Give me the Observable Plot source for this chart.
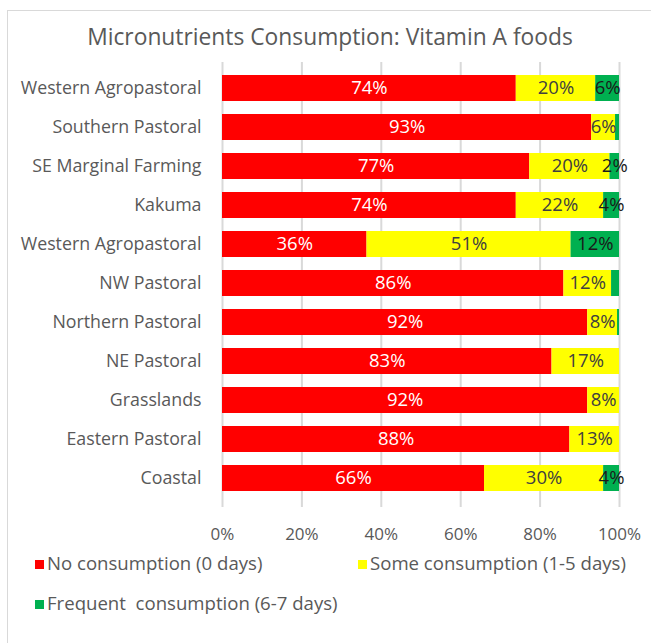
<!DOCTYPE html>
<html>
<head>
<meta charset="utf-8">
<script src="https://cdn.jsdelivr.net/npm/d3@7"></script>
<script src="https://cdn.jsdelivr.net/npm/@observablehq/plot@0.6"></script>
<style>
  html, body { margin: 0; padding: 0; background: #fff; }
  body { width: 651px; height: 643px; position: relative; overflow: hidden; font-family: "Open Sans", sans-serif; }
  #frame { position: absolute; left: 7px; top: 10px; width: 700px; height: 700px; border: 1px solid #d9d9d9; box-sizing: border-box; }
  #title { position: absolute; left: 0; width: 660px; top: 22px; text-align: center; font-size: 22.8px; line-height: 30px; color: #595959; }
  #chart { position: absolute; left: 0; top: 0; }
  .leg { position: absolute; font-size: 18.6px; line-height: 22px; color: #595959; white-space: pre; }
  .sw { display: inline-block; width: 9px; height: 9px; margin-right: 3px; vertical-align: 1px; }
</style>
</head>
<body>
<div id="frame"></div>
<div id="title">Micronutrients Consumption: Vitamin A foods</div>
<div id="chart"></div>
<div id="legend"></div>
<script>
const categories = ["Western Agropastoral","Southern Pastoral","SE Marginal Farming","Kakuma","Western Agropastoral","NW Pastoral","Northern Pastoral","NE Pastoral","Grasslands","Eastern Pastoral","Coastal"];
const seriesNames = ["No consumption (0 days)","Some consumption (1-5 days)","Frequent  consumption (6-7 days)"];
const seriesColors = ["#ff0000","#ffff00","#00b050"];
const noConsumption = [74,93,77.4,74,36.4,86,92,83,92,87.5,66];
const someConsumption = [20,6,20.2,22,51.4,12,7.5,17,8,12.5,30];
const frequentConsumption = [6,1,2.4,4,12.2,2,0.5,0,0,0,4];
const frequentLabelShown = [true,false,true,true,true,false,false,false,false,false,true];
const xTicks = [0,20,40,60,80,100];

const seriesValues = [noConsumption, someConsumption, frequentConsumption];
const data = [];
categories.forEach((c, i) => {
  seriesValues.forEach((vals, s) => {
    const v = vals[i];
    let label = Math.round(v) + "%";
    if (s === 2 && !frequentLabelShown[i]) label = "";
    if (v === 0) label = "";
    data.push({idx: i, series: seriesNames[s], s, value: v, label});
  });
});

const textColors = ["#ffffff","#404040","#1a1a1a"];
const textMarks = [0,1,2].map(s =>
  Plot.text(data, Plot.filter(d => d.s === s, Plot.stackX({
    y: "idx", x: "value", text: "label", order: null,
    fill: textColors[s], fontSize: 18.5
  })))
);

const chart = Plot.plot({
  width: 651,
  height: 545,
  marginLeft: 222,
  marginRight: 32,
  marginTop: 62,
  marginBottom: 41,
  style: { fontFamily: "'Open Sans', sans-serif", fontSize: "17px", color: "#595959", background: "transparent" },
  x: { domain: [0, 100], label: null },
  y: { domain: d3.range(categories.length), padding: 0.33, label: null },
  color: { domain: seriesNames, range: seriesColors },
  marks: [
    Plot.ruleX(xTicks, { stroke: "#d9d9d9", strokeWidth: 2, insetBottom: -3 }),
    Plot.barX(data, Plot.stackX({ y: "idx", x: "value", fill: "series", order: null })),
    ...textMarks,
    Plot.axisY({ tickSize: 0, tickPadding: 21, tickFormat: i => categories[i], fill: "#595959", fontSize: 17.8, label: null }),
    Plot.axisX(xTicks, { tickSize: 0, tickPadding: 23, tickFormat: d => d + "%", fill: "#595959", fontSize: 17, label: null })
  ]
});
document.getElementById("chart").appendChild(chart);

const legendPos = [[35, 552], [358, 552], [35, 592]];
const legend = document.getElementById("legend");
seriesNames.forEach((n, i) => {
  const el = document.createElement("div");
  el.className = "leg";
  el.style.left = legendPos[i][0] + "px";
  el.style.top = legendPos[i][1] + "px";
  el.innerHTML = `<span class="sw" style="background:${seriesColors[i]}"></span>${n}`;
  legend.appendChild(el);
});
</script>
</body>
</html>
